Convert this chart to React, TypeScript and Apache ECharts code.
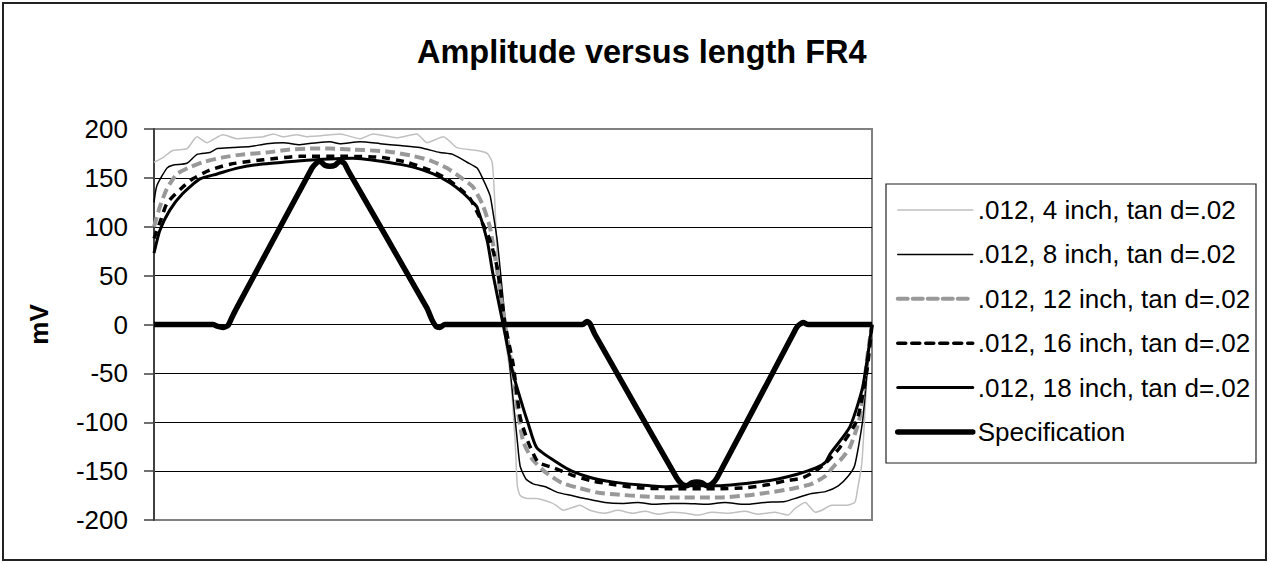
import React, { useEffect, useRef } from "react";
import * as echarts from "echarts";

const titleText = "Amplitude versus length FR4";
const yAxisName = "mV";
const yTicks = [-200, -150, -100, -50, 0, 50, 100, 150, 200];

const seriesNames = [
  ".012, 4 inch, tan d=.02",
  ".012, 8 inch, tan d=.02",
  ".012, 12 inch, tan d=.02",
  ".012, 16 inch, tan d=.02",
  ".012, 18 inch, tan d=.02",
  "Specification",
];

const inch4: [number, number][] = [
  [0, 166], [1.3, 171], [2.6, 178], [4.6, 180], [6.0, 192], [7.4, 186], [8.2, 189], [9.6, 194],
  [11.6, 190], [13.4, 191], [15.2, 192], [16.6, 195], [18.0, 192], [19.9, 194], [21.3, 192],
  [24.5, 194], [25.9, 195], [28.7, 190], [30.5, 195], [33.8, 191], [36.6, 195], [38.0, 186],
  [40.3, 192], [42.2, 181], [45.0, 178], [46.4, 175], [47.1, 166], [47.5, 120], [47.9, 52],
  [48.6, 1], [49.6, -50], [50.3, -119], [50.6, -165], [51.0, -175], [52.0, -178], [53.3, -178],
  [55.2, -182], [56.0, -185], [57.0, -190], [58.4, -187], [59.3, -185], [60.7, -190], [62.8, -193],
  [64.6, -190], [66.6, -193], [68.4, -191], [70.2, -194], [72.1, -192], [74.0, -193], [75.8, -195],
  [77.7, -192], [79.9, -193], [82.3, -191], [84.1, -194], [86.5, -192], [88.3, -195], [89.3, -188],
  [90.7, -182], [92.1, -192], [93.0, -190], [94.4, -185], [96.2, -185], [97.6, -182], [98.0, -168],
  [98.6, -141], [99.3, -54], [100, 0],
];

const inch8: [number, number][] = [
  [0, 125], [0.4, 142], [1.8, 160], [2.6, 163], [4.6, 165], [6.0, 174], [7.8, 176], [8.8, 180],
  [11.0, 181], [13.4, 182], [15.7, 185], [18.0, 186], [20.3, 184], [22.7, 186], [24.5, 187],
  [25.9, 185], [28.7, 187], [31.5, 185], [34.3, 183], [37.0, 181], [39.8, 176], [41.6, 174],
  [43.6, 166], [45.0, 160], [45.8, 149], [46.8, 132], [47.1, 120], [47.8, 86], [48.5, 35],
  [49.2, -16], [49.9, -68], [50.6, -119], [51.0, -145], [51.8, -158], [52.8, -163], [54.5, -166],
  [56.3, -172], [58.2, -175], [60.0, -178], [62.8, -182], [65.2, -183], [67.4, -182], [69.8, -184],
  [72.1, -183], [74.0, -183], [76.7, -184], [79.5, -182], [82.3, -184], [85.1, -182], [87.9, -181],
  [89.7, -177], [91.6, -173], [93.5, -171], [95.3, -165], [96.7, -155], [97.6, -144], [98.7, -98],
  [99.7, -16], [100, 0],
];

const inch12: [number, number][] = [
  [0, 100], [0.8, 120], [1.8, 139], [3.2, 154], [5.0, 161], [6.8, 166], [9.6, 171], [12.4, 174],
  [15.7, 176], [18.9, 179], [21.7, 180], [24.5, 180], [27.7, 179], [32.5, 177], [35.7, 173],
  [38.4, 168], [40.8, 160], [43.0, 149], [44.4, 141], [45.8, 122], [46.8, 99], [47.5, 69],
  [48.2, 35], [48.9, 0], [50.0, -50], [50.6, -85], [51.4, -119], [52.6, -137], [54.5, -151],
  [56.8, -162], [59.1, -167], [61.8, -172], [64.6, -174], [68.4, -176], [72.1, -177], [78.6, -177],
  [82.3, -175], [85.5, -172], [88.9, -168], [91.6, -163], [93.5, -155], [94.8, -144], [95.8, -137],
  [96.9, -126], [98.3, -95], [99.4, -30], [100, 0],
];

const inch16: [number, number][] = [
  [0, 88], [1.0, 108], [1.8, 124], [3.9, 140], [5.4, 149], [7.8, 158], [10.6, 164], [13.4, 167],
  [17.1, 170], [20.3, 172], [26.9, 172], [31.5, 171], [35.2, 166], [38.4, 158], [40.8, 149],
  [42.6, 139], [44.0, 129], [45.4, 109], [46.8, 86], [47.8, 58], [48.9, 0], [50.0, -40],
  [51.0, -95], [52.1, -120], [53.5, -141], [55.4, -146], [58.2, -154], [61.0, -160], [64.2, -164],
  [67.4, -167], [71.2, -168], [78.6, -168], [82.3, -167], [85.5, -164], [87.9, -160], [90.3, -157],
  [92.1, -150], [93.5, -142], [95.5, -126], [97.9, -98], [99.3, -47], [100, 0],
];

const inch18: [number, number][] = [
  [0, 73], [0.8, 96], [2.2, 117], [4.0, 134], [6.4, 149], [8.8, 154], [11.6, 160], [14.8, 164],
  [18.0, 166], [21.3, 168], [27.7, 170], [32.5, 166], [36.1, 161], [38.9, 154], [41.2, 145],
  [43.0, 135], [44.4, 125], [45.0, 120], [46.4, 86], [47.2, 52], [48.6, 1], [50.0, -50],
  [51.4, -85], [52.1, -101], [53.3, -126], [56.3, -142], [58.2, -150], [61.0, -157], [63.8, -161],
  [67.4, -164], [71.2, -166], [74.0, -165], [78.6, -165], [83.3, -162], [86.9, -158], [89.7, -153],
  [92.1, -147], [93.5, -141], [94.2, -132], [96.9, -105], [98.7, -64], [100, 0],
];

const spec: [number, number][] = [
  [0, 0], [8.2, 0], [8.9, -2], [9.6, -3], [10.3, -1], [10.9, 8], [11.6, 18], [22.0, 160],
  [22.6, 165], [23.1, 167], [23.8, 163], [24.5, 162], [25.2, 163], [25.9, 167], [26.5, 165],
  [27.0, 158], [38.0, 17], [38.7, 5], [39.3, -2], [39.8, -3], [40.5, 0], [59.7, 0], [60.3, 3],
  [60.7, 1], [61.4, -10], [72.8, -157], [73.5, -163], [74.2, -165], [74.9, -162], [75.6, -161],
  [76.3, -162], [77.0, -165], [77.7, -163], [78.4, -157], [89.0, -10], [89.6, -2], [90.4, 2],
  [91.1, 0], [100, 0],
];

const seriesData = [inch4, inch8, inch12, inch16, inch18, spec];
const seriesStyles = [
  { color: "#c0c0c0", width: 1.5, type: "solid" as any },
  { color: "#000000", width: 1.5, type: "solid" as any },
  { color: "#999999", width: 4, type: [10, 5] as any },
  { color: "#000000", width: 3.5, type: [8, 6] as any },
  { color: "#000000", width: 3, type: "solid" as any },
  { color: "#000000", width: 5.5, type: "solid" as any },
];

export default function App() {
  const ref = useRef<HTMLDivElement>(null);
  useEffect(() => {
    if (!ref.current) return;
    const chart = echarts.init(ref.current, undefined, { renderer: "svg" });
    const font = "Arial, 'Liberation Sans', sans-serif";
    chart.setOption({
      animation: false,
      backgroundColor: "#ffffff",
      title: {
        text: titleText,
        left: 417,
        top: 35,
        padding: 0,
        textStyle: { fontFamily: font, fontSize: 32.5, fontWeight: "bold", color: "#000" },
      },
      grid: {
        left: 154,
        top: 129,
        right: 397,
        bottom: 43,
        show: true,
        borderColor: "#808080",
        borderWidth: 2,
        backgroundColor: "#ffffff",
      },
      legend: {
        orient: "vertical",
        left: 895,
        top: 195,
        padding: 0,
        itemGap: 14.4,
        itemWidth: 75,
        itemHeight: 14,
        data: seriesNames.map((n, i) => ({
          name: n,
          itemStyle: { opacity: 0 },
          lineStyle: {
            color: seriesStyles[i].color,
            width: seriesStyles[i].width,
            cap: "round",
          },
        })),
        textStyle: { fontFamily: font, fontSize: 26, color: "#000", lineHeight: 30 },
      },
      xAxis: {
        type: "value",
        min: 0,
        max: 100,
        axisLine: { show: false },
        axisTick: { show: false },
        axisLabel: { show: false },
        splitLine: { show: false },
      },
      yAxis: {
        type: "value",
        min: -200,
        max: 200,
        interval: 50,
        name: yAxisName,
        nameLocation: "middle",
        nameGap: 102,
        nameTextStyle: { fontFamily: font, fontSize: 26, fontWeight: "bold", color: "#000" },
        axisLine: { show: true, lineStyle: { color: "#404040", width: 2 } },
        axisTick: { show: true, inside: false, length: 10, lineStyle: { color: "#404040", width: 1.5 } },
        axisLabel: {
          margin: 26,
          fontFamily: font,
          fontSize: 26,
          color: "#000",
          formatter: (v: number) => (yTicks.includes(v) ? String(v) : ""),
        },
        splitLine: {
          show: true,
          lineStyle: {
            color: ["#808080", "#000", "#000", "#000", "#000", "#000", "#000", "#000", "#808080"],
            width: 1,
          },
        },
      },
      graphic: [
        {
          type: "rect",
          shape: { x: 3, y: 3, width: 1263, height: 557 },
          style: { fill: "none", stroke: "#222", lineWidth: 2 },
          silent: true,
          z: 100,
        },
        {
          type: "rect",
          shape: { x: 886, y: 184, width: 370, height: 279 },
          style: { fill: "none", stroke: "#222", lineWidth: 1.2 },
          silent: true,
          z: 100,
        },
      ],
      series: seriesData.map((d, i) => ({
        name: seriesNames[i],
        type: "line",
        data: d,
        showSymbol: false,
        symbol: "none",
        smooth: 0.2,
        clip: true,
        lineStyle: {
          color: seriesStyles[i].color,
          width: seriesStyles[i].width,
          type: seriesStyles[i].type,
          cap: "butt",
          join: "round",
        },
        itemStyle: { color: seriesStyles[i].color },
        z: 2 + i,
      })),
    });
    return () => chart.dispose();
  }, []);
  return (
    <div
      ref={ref}
      style={{ position: "absolute", left: 0, top: 0, width: 1269, height: 563, background: "#fff" }}
    />
  );
}
